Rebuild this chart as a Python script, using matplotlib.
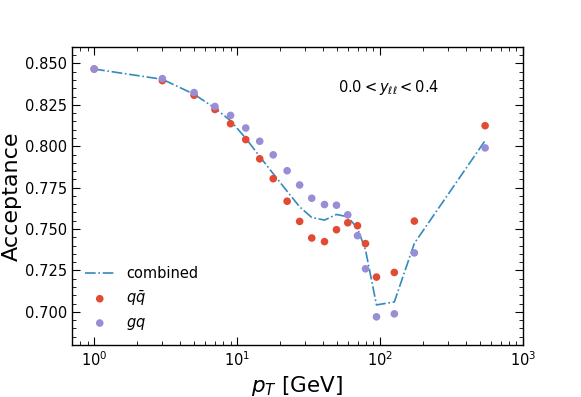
import matplotlib
matplotlib.use("Agg")
import matplotlib.pyplot as plt
from matplotlib.ticker import AutoMinorLocator, LogLocator, NullFormatter

pt = [1.0, 3.0, 5.0, 7.0, 9.0, 11.5, 14.4, 17.9, 22.4, 27.4, 33.3, 40.9, 49.6, 59.5,
      69.6, 79.2, 94.5, 126, 174, 544]
qqbar = [0.8466, 0.8396, 0.8308, 0.8222, 0.8136, 0.8040, 0.7924, 0.7804, 0.7668, 0.7546,
         0.7446, 0.7424, 0.7496, 0.7538, 0.7520, 0.7412, 0.7210, 0.7238, 0.7548, 0.8124]
gq = [0.8466, 0.8408, 0.8324, 0.8240, 0.8186, 0.8110, 0.8030, 0.7948, 0.7852, 0.7766,
      0.7686, 0.7648, 0.7644, 0.7586, 0.7460, 0.7260, 0.6970, 0.6988, 0.7356, 0.7990]
combined = [0.8466, 0.8404, 0.8314, 0.8230, 0.8154, 0.8048, 0.7938, 0.7834, 0.7728, 0.7634,
            0.7570, 0.7554, 0.7588, 0.7574, 0.7504, 0.7374, 0.7042, 0.7060, 0.7414, 0.8034]

fig = plt.figure(figsize=(5.81, 3.97), dpi=100)
ax = fig.add_axes([0.124, 0.131, 0.776, 0.751])

ax.plot(pt, combined, linestyle='-.', color='#348ABD', lw=1.2, label='combined')
ax.scatter(pt, qqbar, s=30, color='#E24A33', label=r'$q\bar{q}$', zorder=3, edgecolors='none')
ax.scatter(pt, gq, s=30, color='#988ED5', label=r'$gq$', zorder=3, edgecolors='none')

ax.set_xscale('log')
ax.set_xlim(0.7, 1000)
ax.set_ylim(0.68, 0.86)
ax.set_yticks([0.700, 0.725, 0.750, 0.775, 0.800, 0.825, 0.850])
ax.yaxis.set_minor_locator(AutoMinorLocator())
ax.xaxis.set_minor_locator(LogLocator(base=10, subs=[2, 3, 4, 5, 6, 7, 8, 9], numticks=20))
ax.xaxis.set_minor_formatter(NullFormatter())
ax.tick_params(which='both', direction='in', top=True, right=True, labelsize=10.5)
ax.tick_params(which='major', length=6)
ax.tick_params(which='minor', length=3)
for s in ax.spines.values():
    s.set_linewidth(1.0)

ax.set_xlabel(r'$p_T$ [GeV]', fontsize=15.5)
ax.set_ylabel('Acceptance', fontsize=16, labelpad=2)
ax.text(0.59, 0.85, r'$0.0 < y_{\ell\ell} < 0.4$', transform=ax.transAxes, fontsize=10.5)
ax.legend(loc='lower left', frameon=False, fontsize=10.5)

fig.savefig('out.png', dpi=100)
